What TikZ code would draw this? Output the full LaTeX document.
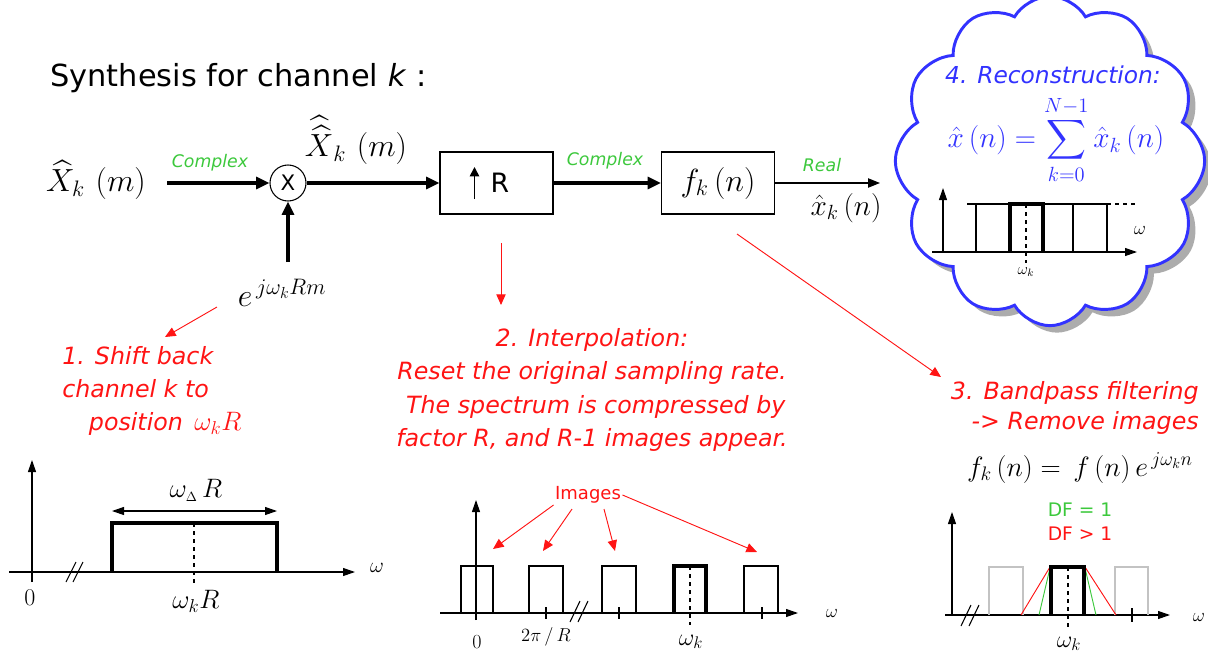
\RequirePackage{fix-cm}
\documentclass[tikz,border=0pt]{standalone}
\usepackage{amsmath}
\usepackage{fontspec}
\setsansfont{DejaVu Sans}
\usetikzlibrary{arrows.meta,shapes.symbols,calc}
\definecolor{annred}{RGB}{255,20,20}
\definecolor{lblgreen}{RGB}{60,200,60}
\definecolor{cloudblue}{RGB}{50,50,255}
\definecolor{imggray}{RGB}{195,195,195}
\begin{document}
\begin{tikzpicture}[x=0.75pt,y=-0.75pt,
  sig/.style={line width=2.3pt,-{Triangle[length=10pt,width=9pt]}},
  thinsig/.style={line width=0.8pt,-{Triangle[length=9pt,width=7pt]}},
  block/.style={draw,line width=0.8pt,minimum width=84.75pt,minimum height=46.5pt,inner sep=0pt},
  bigmath/.style={inner sep=0pt,font=\fontsize{24}{28}\selectfont},
  lbl/.style={text=lblgreen,inner sep=0pt,font=\sffamily\itshape\fontsize{13}{15}\selectfont},
  note/.style={text=annred,inner sep=0pt,font=\sffamily\itshape\fontsize{17.8}{25}\selectfont},
  axis/.style={line width=0.8pt,-{Triangle[length=9pt,width=6pt]}},
  band/.style={line width=0.8pt},
  boldband/.style={line width=2.4pt},
  pointer/.style={draw=annred,line width=0.7pt,-{Triangle[length=8pt,width=7pt]}},
  axlbl/.style={inner sep=0pt,font=\fontsize{16}{18}\selectfont},
  puffy/.style={cloud,cloud puffs=12,cloud puff arc=120,aspect=1,minimum width=232pt,minimum height=247pt}]
\useasboundingbox (0,0) rectangle (1208,657);

% ---------- title ----------
\node[anchor=west,inner sep=0pt,font=\sffamily\fontsize{22.8}{25}\selectfont] (title) at (50,78)
  {Synthesis for channel \textit{k} :};

% ---------- synthesis chain ----------
\node[bigmath] (xin) at (96,180) {$\widehat{X}_{k}\,\,(m)$};
\coordinate (inStart) at (167,183);
\node[circle,draw,line width=0.8pt,minimum size=27pt,inner sep=0pt,
      font=\sffamily\fontsize{16}{16}\selectfont] (mul) at (288,183) {X};
\node[lbl] (cplx1) at (210,163) {Complex};
\draw[sig] (inStart) -- (mul.west);

\coordinate (expTop) at (288,262);
\draw[sig] (expTop) -- (mul.south);
\node[bigmath] (expo) at (282,293) {$e^{\,j\omega_{k}Rm}$};

\node[bigmath] (xdd) at (356,140) {$\widehat{\widehat{X}}_{k}\,\,(m)$};

% up-sampler: an arrow drawn beside the letter R
\node[block,font=\sffamily\fontsize{20}{21}\selectfont] (up) at (496.5,183) {\hspace*{5pt}R};
\draw[line width=1.3pt,-{Triangle[length=7pt,width=7pt]}]
  ([xshift=-16.5pt,yshift=-12pt]up.center) -- ([xshift=-16.5pt,yshift=12pt]up.center);
\draw[sig] (mul.east) -- (up.west);

\node[block,font=\fontsize{24}{28}\selectfont] (filt) at (718,183) {$f_{k}\,(n)$};
\node[lbl] (cplx2) at (605,161) {Complex};
\draw[sig] (up.east) -- (filt.west);

\coordinate (outEnd) at (880,183);
\draw[thinsig] (filt.east) -- (outEnd);
\node[lbl] (real) at (822,165) {Real};
\node[inner sep=0pt,font=\fontsize{22}{26}\selectfont] (xk) at (846,208) {$\hat{x}_{k}\,(n)$};

% ---------- reconstruction cloud ----------
\node[puffy,fill=gray!65,draw=none] (cloudshadow) at (1057,168) {};
\node[puffy,fill=white,draw=cloudblue,line width=2.2pt] (cloud) at (1050,161) {};
\node[text=cloudblue,inner sep=0pt,font=\sffamily\itshape\fontsize{17.5}{20}\selectfont] (recon) at (1053,75)
  {4. Reconstruction:};
\node[text=cloudblue,inner sep=0pt,font=\fontsize{22}{24}\selectfont] (sumeq) at (1056,140)
  {$\displaystyle \hat{x}\,(n)=\sum_{k=0}^{N-1}\hat{x}_{k}\,(n)$};
% small spectrum
\draw[axis] (932,252) -- (1137,252);
\draw[axis] (943,252) -- (943,188);
\draw[band] (976,252) -- (976,204) -- (1107,204) -- (1107,252);
\draw[band] (1073,204) -- (1073,252);
\draw[boldband] (1010,252) -- (1010,204) -- (1043,204) -- (1043,252);
\draw[band] (967,204) -- (976,204);
\draw[band,dashed] (1107,204) -- (1138,204);
\draw[band,dashed] (1026,204) -- (1026,263);
\node[inner sep=0pt,font=\fontsize{12}{14}\selectfont] (wk0) at (1026,272) {$\omega_{k}$};
\node[inner sep=0pt,font=\fontsize{14}{16}\selectfont] (w0) at (1140,230) {$\omega$};

% ---------- annotation pointers ----------
\coordinate (p1s) at (217,307); \coordinate (p1e) at (165,337);
\draw[pointer] (p1s) -- (p1e);
\coordinate (p2s) at (501,243); \coordinate (p2e) at (501,305);
\draw[pointer] (p2s) -- (p2e);
\coordinate (p3s) at (737,234); \coordinate (p3e) at (941,377);
\draw[pointer] (p3s) -- (p3e);

% ---------- step 1 ----------
\node[note,anchor=north west,align=left] (note1) at (62,346)
  {1. Shift back\\channel k to\\\hspace*{20pt}position \,{\fontsize{20}{25}\selectfont$\omega_{k}R$}};
\draw[axis] (9,572) -- (355,572);
\draw[axis] (32,582) -- (32,460);
\draw[band] (66,582) -- (76,562);
\draw[band] (73,582) -- (83,562);
\draw[boldband] (112,572) -- (112,523) -- (277,523) -- (277,572);
\draw[band,dashed] (194,523) -- (194,583);
\draw[band,{Triangle[length=9pt,width=6pt]}-{Triangle[length=9pt,width=6pt]}] (112,511) -- (277,511);
\node[inner sep=0pt,font=\fontsize{20}{22}\selectfont] (wdr) at (196,490) {$\omega_{\scriptscriptstyle\Delta}\,R$};
\node[inner sep=0pt,font=\fontsize{20}{22}\selectfont] (wkr) at (196,601) {$\omega_{k}R$};
\node[inner sep=0pt,font=\fontsize{18}{20}\selectfont] (zero1) at (30,598) {0};
\node[axlbl] (w1) at (377,568) {$\omega$};

% ---------- step 2 ----------
\node[note,align=center] (note2) at (592,390)
  {2. Interpolation:\\Reset the original sampling rate.\\\ The spectrum is compressed by\\factor R, and R-1 images appear.};
\draw[axis] (440,613) -- (798,613);
\draw[axis] (476,620) -- (476,500);
\draw[band] (461,613) -- (461,566) -- (493,566) -- (493,613);
\draw[band] (529,613) -- (529,566) -- (563,566) -- (563,613);
\draw[band] (602,613) -- (602,566) -- (636,566) -- (636,613);
\draw[boldband] (674,613) -- (674,566) -- (706,566) -- (706,613);
\draw[band] (744,613) -- (744,566) -- (778,566) -- (778,613);
\draw[band] (546,607) -- (546,619);
\draw[band] (619,607) -- (619,619);
\draw[band] (762,607) -- (762,619);
\draw[band] (570,622) -- (580,601);
\draw[band] (578,622) -- (588,601);
\draw[band,dashed] (690,566) -- (690,625);
\node[inner sep=0pt,font=\fontsize{15}{16}\selectfont] (zero2) at (477,642) {0};
\node[inner sep=0pt,font=\fontsize{14}{15}\selectfont] (twopi) at (546,637) {$2\pi\,/\,R$};
\node[inner sep=0pt,font=\fontsize{18}{19}\selectfont] (wk2) at (691,642) {$\omega_{k}$};
\node[inner sep=0pt,font=\fontsize{14}{16}\selectfont] (w2) at (832,613) {$\omega$};
\node[text=annred,inner sep=1pt,font=\sffamily\fontsize{13.5}{15}\selectfont] (img) at (588,495) {Images};
\coordinate (i1) at (493,549); \coordinate (i2) at (543,551);
\coordinate (i3) at (615,551); \coordinate (i4) at (757,552);
\draw[pointer] (img.south west) -- (i1);
\draw[pointer] ($(img.south)+(-16,4)$) -- (i2);
\draw[pointer] ($(img.south)+(16,4)$) -- (i3);
\draw[pointer] (img.east) -- (i4);

% ---------- step 3 ----------
\node[note,align=right,anchor=east,font=\sffamily\itshape\fontsize{17.8}{22.5}\selectfont] (note3) at (1199,408)
  {3. Bandpass filtering\\-> Remove images};
\node[inner sep=0pt,font=\fontsize{21}{24}\selectfont] (feq) at (1080,468) {$f_{k}\,(n)=\,f\,(n)\,e^{\,j\omega_{k}n}$};
\node[text=lblgreen,inner sep=0pt,font=\sffamily\fontsize{14}{16}\selectfont] (df1) at (1080,510) {DF = 1};
\node[text=annred,inner sep=0pt,font=\sffamily\fontsize{14}{16}\selectfont] (df2) at (1080,534) {DF > 1};
\draw[axis] (945,615) -- (1170,615);
\draw[axis] (952,615) -- (952,512);
\draw[band] (961,626) -- (971,605);
\draw[band] (969,626) -- (979,605);
\draw[band,imggray] (989,615) -- (989,567) -- (1023,567) -- (1023,615);
\draw[band,imggray] (1115,615) -- (1115,567) -- (1148,567) -- (1148,615);
\draw[band] (1132,608) -- (1132,622);
\draw[line width=0.7pt,annred] (1021,615) -- (1050,567);
\draw[line width=0.7pt,annred] (1085,567) -- (1116,615);
\draw[line width=0.7pt,lblgreen] (1039,615) -- (1050,568);
\draw[line width=0.7pt,lblgreen] (1085,568) -- (1096,615);
\draw[boldband] (1051,615) -- (1051,567) -- (1084,567) -- (1084,615);
\draw[band,dashed] (1068,567) -- (1068,628);
\node[inner sep=0pt,font=\fontsize{18}{19}\selectfont] (wk3) at (1069,644) {$\omega_{k}$};
\node[inner sep=0pt,font=\fontsize{14}{16}\selectfont] (w3) at (1199,617) {$\omega$};
\end{tikzpicture}
\end{document}
